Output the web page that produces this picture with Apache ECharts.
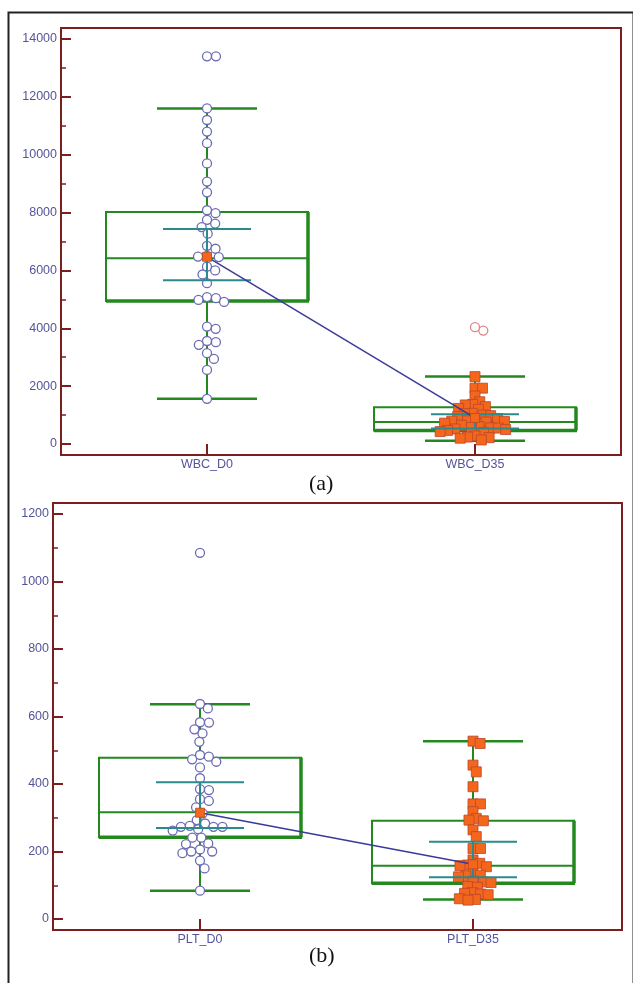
<!DOCTYPE html>
<html>
<head>
<meta charset="utf-8">
<script src="https://cdn.jsdelivr.net/npm/echarts@6/dist/echarts.min.js"></script>
<style>
  html, body { margin: 0; padding: 0; background: #fff; }
  #main { width: 633px; height: 983px; }
</style>
</head>
<body>
<div id="main"></div>
<script>
// ---- data ----
var wbcCats = ['WBC_D0', 'WBC_D35'];
var wbcD0 = [13400, 13400, 11600, 11200, 10800, 10400, 9700, 9070, 8700, 8080, 7980, 7750, 7620, 7500, 7270,
    6850, 6750, 6500, 6480, 6460, 6130, 6000, 5860, 5560, 5080, 5040, 4980, 4910, 4060, 3980, 3560, 3520,
    3430, 3140, 2940, 2560, 1560];
var wbcD35 = [2330, 1930, 1930, 1660, 1460, 1370, 1350, 1290, 1230, 1200, 1060, 1050, 1000, 980, 950, 880,
    820, 800, 790, 780, 760, 720, 650, 600, 570, 560, 550, 520, 500, 470, 430, 400, 280, 240, 220, 200, 140];
var wbcD35Out = [3920, 4040];
// min, Q1, median, Q3, max
var wbcBox = [[1560, 4940, 6420, 8020, 11600], [115, 470, 760, 1270, 2330]];
var wbcCI = [[5660, 7430], [540, 1030]];
var wbcMean = [6470, 900];
var wbcTicks = [0, 14000, 2000];

var pltCats = ['PLT_D0', 'PLT_D35'];
var pltD0 = [1085, 637, 624, 583, 582, 562, 550, 525, 486, 481, 473, 466, 449, 417, 385, 382, 355, 350,
    331, 313, 293, 283, 276, 273, 273, 273, 266, 262, 241, 241, 224, 222, 206, 200, 200, 195, 173, 150, 84];
var pltD35 = [527, 520, 456, 436, 392, 341, 341, 318, 298, 293, 291, 264, 244, 209, 209, 175, 165, 160,
    158, 155, 135, 130, 128, 125, 112, 110, 108, 96, 94, 78, 76, 74, 72, 60, 58, 56];
var pltD35Out = [];
var pltBox = [[84, 242, 316, 478, 636], [58, 106, 158, 291, 527]];
var pltCI = [[270, 405], [124, 229]];
var pltMean = [315, 162];
var pltTicks = [0, 1200, 200];

// ---- styles ----
var AXIS = '#7a1e1e';
var TXT = '#54549a';
var GREEN = '#23891f';
var TEAL = '#2a8a8c';
var ORANGE = '#f4661c';

// simple beeswarm: pixel x-offsets so that markers do not overlap
function swarm(values, pxPerUnit, diam) {
    var placed = [];
    var offs = new Array(values.length);
    var order = values.map(function (v, i) { return i; })
        .sort(function (a, b) { return values[b] - values[a]; });
    order.forEach(function (i) {
        var y = values[i] * pxPerUnit;
        var cands = [0];
        placed.forEach(function (p) {
            var dy = Math.abs(p.y - y);
            if (dy < diam) {
                var dx = Math.sqrt(diam * diam - dy * dy);
                cands.push(p.x + dx, p.x - dx);
            }
        });
        cands.sort(function (a, b) { return Math.abs(a) - Math.abs(b); });
        var x = 0;
        for (var k = 0; k < cands.length; k++) {
            var ok = placed.every(function (p) {
                return (p.x - cands[k]) * (p.x - cands[k]) + (p.y - y) * (p.y - y) >= diam * diam - 0.01;
            });
            if (ok) { x = cands[k]; break; }
        }
        placed.push({ x: x, y: y });
        offs[i] = x;
    });
    return offs;
}

function pts(cat, values, pxPerUnit, diam) {
    var offs = swarm(values, pxPerUnit, diam);
    return values.map(function (v, i) {
        return { value: [cat, v], symbolOffset: [offs[i], 0] };
    });
}

function boxRender(params, api) {
    var c = api.value(0);
    var pMin = api.coord([c, api.value(1)]);
    var pQ1 = api.coord([c, api.value(2)]);
    var pMed = api.coord([c, api.value(3)]);
    var pQ3 = api.coord([c, api.value(4)]);
    var pMax = api.coord([c, api.value(5)]);
    var x = pMin[0], hw = 101, cap = 50;
    function ln(x1, y1, x2, y2, w) {
        return { type: 'line', shape: { x1: x1, y1: y1, x2: x2, y2: y2 },
            style: { stroke: GREEN, lineWidth: w } };
    }
    return { type: 'group', children: [
        ln(x, pQ3[1], x, pMax[1], 2),
        ln(x, pQ1[1], x, pMin[1], 2),
        ln(x - cap, pMax[1], x + cap, pMax[1], 2.5),
        ln(x - cap, pMin[1], x + cap, pMin[1], 2.5),
        { type: 'rect', shape: { x: x - hw, y: pQ3[1], width: 2 * hw, height: pQ1[1] - pQ3[1] },
            style: { stroke: GREEN, fill: null, lineWidth: 2 } },
        ln(x - hw, pQ1[1], x + hw + 1, pQ1[1], 3.5),
        ln(x + hw, pQ3[1], x + hw, pQ1[1], 3.5),
        ln(x - hw, pMed[1], x + hw, pMed[1], 2)
    ] };
}

function ciRender(params, api) {
    var c = api.value(0);
    var lo = api.coord([c, api.value(1)]);
    var hi = api.coord([c, api.value(2)]);
    var x = lo[0], hw = 44;
    var st = { stroke: TEAL, lineWidth: 2 };
    return { type: 'group', children: [
        { type: 'line', shape: { x1: x, y1: lo[1], x2: x, y2: hi[1] }, style: st },
        { type: 'line', shape: { x1: x - hw, y1: lo[1], x2: x + hw, y2: lo[1] }, style: st },
        { type: 'line', shape: { x1: x - hw, y1: hi[1], x2: x + hw, y2: hi[1] }, style: st }
    ] };
}

var grids = [], xAxes = [], yAxes = [], series = [];

function panel(frame, data, cats, d0, d35, out, box, ci, mean, ticks) {
    var fi = grids.length;
    grids.push({ left: frame.left, top: frame.top, width: frame.width, height: frame.height,
        show: true, borderColor: AXIS, borderWidth: 2, backgroundColor: 'transparent', outerBoundsMode: 'none' });
    xAxes.push({ gridIndex: fi, type: 'value', show: false });
    yAxes.push({ gridIndex: fi, type: 'value', show: false });

    var di = grids.length;
    grids.push({ left: data.left, top: data.top, width: data.width, height: data.height, outerBoundsMode: 'none' });
    xAxes.push({
        gridIndex: di, type: 'category', data: cats,
        axisLine: { show: false },
        axisTick: { show: true, alignWithLabel: true, length: 11, lineStyle: { color: AXIS, width: 2 } },
        axisLabel: { color: TXT, fontSize: 12.5, fontFamily: 'Liberation Sans, Arial', margin: 14 },
        splitLine: { show: false }
    });
    yAxes.push({
        gridIndex: di, type: 'value', min: ticks[0], max: ticks[1], interval: ticks[2],
        offset: data.left - frame.left,
        axisLine: { show: false },
        axisTick: { show: true, inside: true, length: 10, lineStyle: { color: AXIS, width: 2 } },
        minorTick: { show: true, splitNumber: 2, length: 5, lineStyle: { color: AXIS, width: 1.5 } },
        axisLabel: { color: TXT, fontSize: 12.5, fontFamily: 'Liberation Sans, Arial', margin: 4,
            formatter: function (v) { return String(v); } },
        splitLine: { show: false }
    });

    var ppu = data.height / (ticks[1] - ticks[0]);
    var ax = { xAxisIndex: di, yAxisIndex: di };

    series.push(Object.assign({
        type: 'custom', z: 1, renderItem: boxRender,
        encode: { x: 0, y: [1, 2, 3, 4, 5] },
        data: box.map(function (b, i) { return [i].concat(b); })
    }, ax));
    series.push(Object.assign({
        type: 'scatter', z: 2, symbol: 'circle', symbolSize: 9,
        itemStyle: { color: '#ffffff', borderColor: '#6c6cb4', borderWidth: 1.3, opacity: 1 },
        data: pts(0, d0, ppu, 9)
    }, ax));
    series.push(Object.assign({
        type: 'scatter', z: 2, symbol: 'rect', symbolSize: 10,
        itemStyle: { color: ORANGE, borderColor: '#b9472e', borderWidth: 0.8, opacity: 1 },
        data: pts(1, d35, ppu, 7.5)
    }, ax));
    if (out.length) {
        series.push(Object.assign({
            type: 'scatter', z: 2, symbol: 'circle', symbolSize: 9,
            itemStyle: { color: '#ffffff', borderColor: '#e08585', borderWidth: 1.3, opacity: 1 },
            data: pts(1, out, ppu, 9)
        }, ax));
    }
    series.push(Object.assign({
        type: 'custom', z: 3, renderItem: ciRender,
        encode: { x: 0, y: [1, 2] },
        data: ci.map(function (b, i) { return [i].concat(b); })
    }, ax));
    series.push(Object.assign({
        type: 'line', z: 4, symbol: 'rect', symbolSize: 9, showSymbol: true,
        itemStyle: { color: ORANGE, borderColor: '#c04a20', borderWidth: 0.8 },
        lineStyle: { color: '#3a3a9a', width: 1.5 },
        data: mean
    }, ax));
}

panel({ left: 61, top: 28, width: 560, height: 427 },
      { left: 73, top: 39, width: 536, height: 405 },
      wbcCats, wbcD0, wbcD35, wbcD35Out, wbcBox, wbcCI, wbcMean, wbcTicks);
panel({ left: 53, top: 503, width: 569, height: 427 },
      { left: 63.5, top: 514, width: 546, height: 405 },
      pltCats, pltD0, pltD35, pltD35Out, pltBox, pltCI, pltMean, pltTicks);

var myChart = echarts.init(document.getElementById('main'));
var option = {
    backgroundColor: '#fff',
    animation: false,
    title: [
        { text: '(a)', left: 304, top: 468,
          textStyle: { fontFamily: 'Liberation Serif, Times New Roman, serif', fontSize: 22, fontWeight: 'normal', color: '#111' } },
        { text: '(b)', left: 304, top: 940,
          textStyle: { fontFamily: 'Liberation Serif, Times New Roman, serif', fontSize: 22, fontWeight: 'normal', color: '#111' } }
    ],
    graphic: [{
        type: 'rect', left: 6, top: 10, silent: true,
        shape: { width: 625, height: 990 },
        style: { fill: null, stroke: '#222', lineWidth: 2 }
    }],
    grid: grids,
    xAxis: xAxes,
    yAxis: yAxes,
    series: series
};
myChart.setOption(option);
</script>
</body>
</html>
